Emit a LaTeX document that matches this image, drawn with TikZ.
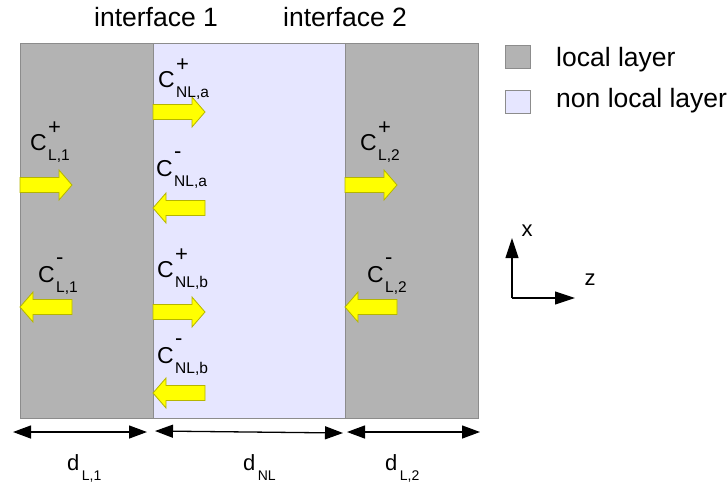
\documentclass[tikz,border=0pt]{standalone}
\usepackage{fontspec}
\setmainfont{Liberation Sans}
\usetikzlibrary{arrows.meta}
\definecolor{lgray}{HTML}{B3B3B3}
\definecolor{lborder}{HTML}{8C8C8C}
\definecolor{lav}{HTML}{E6E6FF}
\definecolor{ayel}{HTML}{FFFF00}
\definecolor{aedge}{HTML}{B5B500}
\tikzset{
 layerL/.style={fill=lgray, draw=lborder, line width=1pt, inner sep=0, anchor=north west},
 layerNL/.style={fill=lav, draw=lborder, line width=1pt, inner sep=0, anchor=north west},
 blockarrow/.style={fill=ayel, draw=aedge, line width=0.8pt, line join=miter},
 bigtxt/.style={inner sep=0, anchor=base west, font=\fontsize{26.5}{26.5}\selectfont},
 ctxt/.style={inner sep=0, anchor=base west, font=\fontsize{23}{23}\selectfont},
 subtxt/.style={inner sep=0, anchor=base west, font=\fontsize{15.5}{15.5}\selectfont},
 suptxt/.style={inner sep=0, anchor=base west, font=\fontsize{22}{22}\selectfont},
 dtxt/.style={inner sep=0, anchor=base west, font=\fontsize{22}{22}\selectfont},
 dsub/.style={inner sep=0, anchor=base west, font=\fontsize{14}{14}\selectfont},
 dimarrow/.style={line width=1.3pt, {Triangle[length=18pt,width=13pt]}-{Triangle[length=18pt,width=13pt]}},
 axisarrow/.style={line width=1.1pt, -{Triangle[length=20pt,width=13pt]}},
}
% C label: name, x, y(baseline), sup, sub, sup raise
\newcommand\clab[6]{%
 \node[ctxt] (#1) at (#2,#3) {C};
 \node[suptxt] (#1p) at ([shift={(1,-#6)}]#1.base east) {#4};
 \node[subtxt] (#1s) at ([shift={(1,10)}]#1.base east) {#5};
}
% right-pointing block arrow: tail x, center y
\newcommand\rblock[2]{%
 \draw[blockarrow] (#1,#2-7.5) -- (#1+39,#2-7.5) -- (#1+39,#2-15) -- (#1+52,#2) -- (#1+39,#2+15) -- (#1+39,#2+7.5) -- (#1,#2+7.5) -- cycle;
}
% left-pointing block arrow: tip x, center y
\newcommand\lblock[2]{%
 \draw[blockarrow] (#1+52,#2-7.5) -- (#1+13,#2-7.5) -- (#1+13,#2-15) -- (#1,#2) -- (#1+13,#2+15) -- (#1+13,#2+7.5) -- (#1+52,#2+7.5) -- cycle;
}
\begin{document}
\begin{tikzpicture}[x=1pt,y=-1pt]
\useasboundingbox (0,0) rectangle (727,491);
% layers
\node[layerL, minimum width=133pt, minimum height=375pt] (L1) at (20,43) {};
\node[layerNL, minimum width=192pt, minimum height=375pt] (NL) at (153,43) {};
\node[layerL, minimum width=133pt, minimum height=375pt] (L2) at (345,43) {};
% interface labels
\node[bigtxt] (if1) at (94,26) {interface 1};
\node[bigtxt] (if2) at (283,26) {interface 2};
% legend
\node[layerL, minimum width=25pt, minimum height=23pt] (lg1) at (505,45) {};
\node[layerNL, minimum width=25pt, minimum height=23pt] (lg2) at (505,90) {};
\node[bigtxt] (lt1) at (556,66) {local layer};
\node[bigtxt] (lt2) at (556,107) {non local layer};
% block arrows
\rblock{20}{185}
\lblock{20}{307}
\rblock{153}{112}
\lblock{153}{208}
\rblock{153}{312}
\lblock{153}{393}
\rblock{345}{185}
\lblock{345}{307}
% labels
\clab{cl1p}{30}{150}{+}{L,1}{16}
\clab{cl1m}{38}{282}{-}{L,1}{18}
\clab{cl2p}{360}{150}{+}{L,2}{16}
\clab{cl2m}{367}{282}{-}{L,2}{18}
\clab{cnap}{158}{87}{+}{NL,a}{16}
\clab{cnam}{156}{176}{-}{NL,a}{18}
\clab{cnbp}{157}{277}{+}{NL,b}{16}
\clab{cnbm}{157}{363}{-}{NL,b}{18}
% dimension arrows
\coordinate (d1a) at (13,432);
\coordinate (d1b) at (147,432);
\coordinate (d2a) at (155,431);
\coordinate (d2b) at (343,433);
\coordinate (d3a) at (347,432);
\coordinate (d3b) at (480,432);
\draw[dimarrow] (d1a) -- (d1b);
\draw[dimarrow] (d2a) -- (d2b);
\draw[dimarrow] (d3a) -- (d3b);
\node[dtxt] (dl1) at (67,470) {d};
\node[dsub] at ([shift={(2,10)}]dl1.base east) {L,1};
\node[dtxt] (dnl) at (243,470) {d};
\node[dsub] at ([shift={(2,10)}]dnl.base east) {NL};
\node[dtxt] (dl2) at (385,470) {d};
\node[dsub] at ([shift={(2,10)}]dl2.base east) {L,2};
% axes
\coordinate (o) at (512,298);
\coordinate (xe) at (512,238);
\coordinate (ze) at (575,298);
\draw[axisarrow] (o) -- (xe);
\draw[axisarrow] (o) -- (ze);
\node[font=\fontsize{22}{22}\selectfont, inner sep=0] (xl) at (527,231) {x};
\node[font=\fontsize{22}{22}\selectfont, inner sep=0] (zl) at (590,280) {z};
\end{tikzpicture}
\end{document}
